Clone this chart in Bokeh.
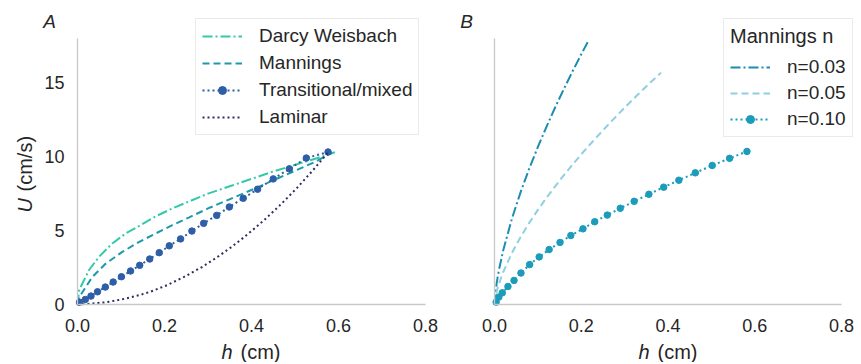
import math
from bokeh.plotting import figure
from bokeh.models import Legend, LegendItem, Label, FixedTicker, Range1d, PrintfTickFormatter
from bokeh.layouts import row
from bokeh.embed import file_html
from bokeh.resources import INLINE

FONT = "Liberation Sans"
TXT = "#262626"

# ---------------- data ----------------
x_ticks = [0.0, 0.2, 0.4, 0.6, 0.8]
y_ticks = [0, 5, 10, 15]

# Panel A
h_dw = [0, 0.004, 0.027, 0.05, 0.08, 0.111, 0.142, 0.18, 0.218, 0.257, 0.30, 0.35, 0.40, 0.45, 0.50, 0.55, 0.592]
u_dw = [0, 1.0, 2.35, 3.25, 4.13, 4.81, 5.32, 5.97, 6.5, 6.98, 7.5, 8.0, 8.5, 9.0, 9.45, 9.9, 10.3]

h_man = [0, 0.004, 0.034, 0.065, 0.103, 0.142, 0.18, 0.218, 0.257, 0.30, 0.348, 0.40, 0.45, 0.50, 0.55, 0.585]
u_man = [0, 0.5, 1.86, 2.77, 3.56, 4.24, 4.81, 5.37, 5.9, 6.5, 7.1, 7.75, 8.4, 9.05, 9.7, 10.29]

h_tr = [0.0046, 0.018, 0.031, 0.046, 0.064, 0.082, 0.101, 0.122, 0.143, 0.166, 0.188, 0.211,
        0.237, 0.263, 0.290, 0.320, 0.349, 0.381, 0.414, 0.450, 0.487, 0.526, 0.576]
u_tr = [0.16, 0.34, 0.57, 0.86, 1.18, 1.52, 1.88, 2.27, 2.65, 3.08, 3.51, 3.97,
        4.44, 4.97, 5.49, 6.03, 6.6, 7.19, 7.8, 8.5, 9.18, 9.91, 10.32]

h_lam = [0, 0.019, 0.065, 0.103, 0.142, 0.168, 0.206, 0.244, 0.287, 0.321, 0.352, 0.375, 0.40, 0.428, 0.467, 0.505, 0.54, 0.578]
u_lam = [0, 0.03, 0.15, 0.35, 0.63, 0.87, 1.31, 1.85, 2.55, 3.2, 3.85, 4.37, 4.97, 5.68, 6.76, 7.9, 9.04, 10.36]

# Panel B
h_n03 = [0, 0.005, 0.01, 0.02, 0.04, 0.06, 0.08, 0.10, 0.12, 0.14, 0.16, 0.18, 0.20, 0.217]
u_n03 = [0, 1.45, 2.30, 3.65, 5.79, 7.59, 9.19, 10.66, 12.04, 13.35, 14.59, 15.78, 16.93, 17.87]

h_n05 = [0, 0.005, 0.01, 0.02, 0.04, 0.06, 0.08, 0.10, 0.12, 0.15, 0.18, 0.21, 0.24, 0.27, 0.30, 0.33, 0.36, 0.384]
u_n05 = [0, 0.87, 1.38, 2.19, 3.48, 4.56, 5.52, 6.40, 7.23, 8.39, 9.47, 10.50, 11.47, 12.41, 13.32, 14.19, 15.04, 15.69]

h_n10 = [0.0038, 0.010, 0.018, 0.031, 0.045, 0.061, 0.081, 0.103, 0.126, 0.151, 0.176, 0.204,
         0.231, 0.260, 0.290, 0.322, 0.356, 0.390, 0.425, 0.463, 0.502, 0.542, 0.582]
u_n10 = [0.16, 0.50, 0.79, 1.22, 1.63, 2.13, 2.70, 3.22, 3.72, 4.20, 4.67, 5.12,
         5.60, 6.05, 6.51, 6.98, 7.46, 7.94, 8.41, 8.91, 9.41, 9.89, 10.36]

labels_a = ["Darcy Weisbach", "Mannings", "Transitional/mixed", "Laminar"]
labels_b = ["n=0.03", "n=0.05", "n=0.10"]
legend_b_title = "Mannings n"

X_MIN, X_MAX = 0.0, 0.8
Y_MIN, Y_MAX = 0.0, 18.0

# ---------------- geometry (pixels) ----------------
H = 362
AX_LEFT_PAD = {"A": 77, "B": 56}      # canvas px from left edge to x=0
AX_RIGHT_PAD = {"A": 13, "B": 19}     # canvas px from x=0.8 to right edge
WIDTH = {"A": 438, "B": 422}
TOP_PAD = 38                           # px from top to y=18
BOT_PAD = H - 304                      # px from y=0 to bottom


def make_fig(key, show_y):
    w = WIDTH[key]
    fw = w - AX_LEFT_PAD[key] - AX_RIGHT_PAD[key]
    xs = (X_MAX - X_MIN) / fw
    fh = H - TOP_PAD - BOT_PAD
    ys = (Y_MAX - Y_MIN) / fh
    xr = Range1d(X_MIN - AX_LEFT_PAD[key] * xs, X_MAX + AX_RIGHT_PAD[key] * xs)
    yr = Range1d(Y_MIN - BOT_PAD * ys, Y_MAX + TOP_PAD * ys)
    p = figure(width=w, height=H, output_backend="svg", toolbar_location=None,
               x_range=xr, y_range=yr, min_border=0,
               min_border_left=0, min_border_right=0, min_border_top=0, min_border_bottom=0)
    p.outline_line_color = None
    p.grid.visible = False
    p.background_fill_color = "white"
    for ax in (p.xaxis[0], p.yaxis[0]):
        ax.fixed_location = 0
        ax.axis_line_color = "#c8c8c8"
        ax.axis_line_width = 1.3
        ax.major_tick_line_color = None
        ax.minor_tick_line_color = None
        ax.major_tick_out = 0
        ax.major_tick_in = 0
        ax.major_label_text_font = FONT
        ax.major_label_text_font_size = "18px"
        ax.major_label_text_color = TXT
    p.xaxis.bounds = (X_MIN, X_MAX)
    p.yaxis.bounds = (Y_MIN, Y_MAX)
    p.xaxis.ticker = FixedTicker(ticks=x_ticks)
    p.xaxis.formatter = PrintfTickFormatter(format="%.1f")
    p.xaxis.major_label_standoff = 14
    p.yaxis.ticker = FixedTicker(ticks=y_ticks)
    p.yaxis.major_label_standoff = 13
    if not show_y:
        p.yaxis.major_label_text_color = None
    # x label: italic h + (cm)
    p.add_layout(Label(x=0, y=0, x_offset=144, y_offset=-47, text="h", text_font=FONT,
                       text_font_size="20px", text_font_style="italic", text_color=TXT,
                       text_align="left", text_baseline="alphabetic"))
    p.add_layout(Label(x=0, y=0, x_offset=163, y_offset=-47, text="(cm)", text_font=FONT,
                       text_font_size="20px", text_color=TXT,
                       text_align="left", text_baseline="alphabetic"))
    return p


def legend_style(lg, spacing):
    lg.label_text_font = FONT
    lg.label_text_font_size = "19px"
    lg.label_text_color = TXT
    lg.glyph_width = 40
    lg.glyph_height = 20
    lg.label_height = 20
    lg.label_standoff = 17
    lg.spacing = spacing
    lg.padding = 6
    lg.margin = 0
    lg.border_line_color = "#d6d6d6"
    lg.border_line_width = 1.2
    lg.background_fill_color = "white"
    lg.background_fill_alpha = 1.0


# ---------------- panel A ----------------
pa = make_fig("A", True)
r_dw = pa.line(h_dw, u_dw, line_color="#35c9a8", line_width=2, line_dash="10 3 2 3")
r_man = pa.line(h_man, u_man, line_color="#1d9aa9", line_width=2, line_dash="7 4")
r_tr_l = pa.line(h_tr, u_tr, line_color="#2f5ea8", line_width=2, line_dash="2 3")
r_tr_s = pa.scatter(h_tr, u_tr, size=6.5, fill_color="#2f5ea8", line_color="#2f5ea8")
r_lam = pa.line(h_lam, u_lam, line_color="#2d2e5f", line_width=2, line_dash="2 3")

leg_a = Legend(items=[LegendItem(label=labels_a[0], renderers=[r_dw]),
                      LegendItem(label=labels_a[1], renderers=[r_man]),
                      LegendItem(label=labels_a[2], renderers=[r_tr_l, r_tr_s]),
                      LegendItem(label=labels_a[3], renderers=[r_lam])],
               location=(195, H - 135))
legend_style(leg_a, 5)
pa.add_layout(leg_a)

pa.add_layout(Label(x=0, y=18, x_offset=-28, y_offset=17, text="A", text_font=FONT,
                    text_font_size="19px", text_font_style="italic", text_color=TXT,
                    text_align="center", text_baseline="alphabetic"))
# y label: italic U + (cm/s)
pa.add_layout(Label(x=0, y=0, x_offset=-53, y_offset=92, text="U", angle=math.pi / 2,
                    text_font=FONT, text_font_size="20px", text_font_style="italic",
                    text_color=TXT, text_align="left", text_baseline="alphabetic"))
pa.add_layout(Label(x=0, y=0, x_offset=-53, y_offset=113, text="(cm/s)", angle=math.pi / 2,
                    text_font=FONT, text_font_size="20px", text_color=TXT,
                    text_align="left", text_baseline="alphabetic"))

# ---------------- panel B ----------------
pb = make_fig("B", False)
r3 = pb.line(h_n03, u_n03, line_color="#1b8db0", line_width=2, line_dash="10 3 2 3")
r5 = pb.line(h_n05, u_n05, line_color="#90cfdf", line_width=2, line_dash="7 4")
r10_l = pb.line(h_n10, u_n10, line_color="#1a9cba", line_width=2, line_dash="2 3")
r10_s = pb.scatter(h_n10, u_n10, size=6.5, fill_color="#1a9cba", line_color="#1a9cba")

leg_b = Legend(items=[LegendItem(label=labels_b[0], renderers=[r3]),
                      LegendItem(label=labels_b[1], renderers=[r5]),
                      LegendItem(label=labels_b[2], renderers=[r10_l, r10_s])],
               location=(723 - 438, H - 137), title=legend_b_title)
legend_style(leg_b, 4)
leg_b.title_text_font = FONT
leg_b.title_text_font_size = "20px"
leg_b.title_text_font_style = "normal"
leg_b.title_text_color = TXT
leg_b.title_standoff = 8
pb.add_layout(leg_b)

pb.add_layout(Label(x=0, y=18, x_offset=-28, y_offset=17, text="B", text_font=FONT,
                    text_font_size="19px", text_font_style="italic", text_color=TXT,
                    text_align="center", text_baseline="alphabetic"))

layout = row(pa, pb)
open("out.html", "w").write(file_html(layout, INLINE))
